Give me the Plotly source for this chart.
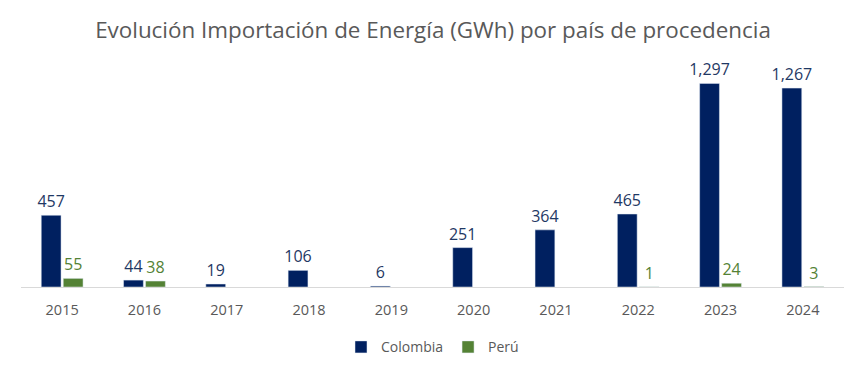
import plotly.graph_objects as go

years = ["2015", "2016", "2017", "2018", "2019", "2020", "2021", "2022", "2023", "2024"]
colombia = [457, 44, 19, 106, 6, 251, 364, 465, 1297, 1267]
peru = [55, 38, None, None, None, None, None, 1, 24, 3]

NAVY = "#002060"
GREEN = "#548235"
FONT = "Open Sans, Noto Sans, sans-serif"

def fmt(v):
    return "" if v is None else f"{v:,}"

fig = go.Figure()
fig.add_trace(go.Bar(
    x=years, y=colombia, name="Colombia", marker_color=NAVY,
    text=[fmt(v) for v in colombia], textposition="outside", constraintext="none",
    textfont=dict(color="#1F3864", size=16, family=FONT), cliponaxis=False,
))
fig.add_trace(go.Bar(
    x=years, y=peru, name="Perú", marker_color=GREEN,
    text=[fmt(v) for v in peru], textposition="outside", constraintext="none",
    textfont=dict(color=GREEN, size=16, family=FONT), cliponaxis=False,
))

fig.update_layout(
    width=866, height=374,
    paper_bgcolor="white", plot_bgcolor="white",
    margin=dict(l=21, r=22, t=60, b=86),
    barmode="group", bargap=0.465, bargroupgap=0.1,
    title=dict(text="Evolución Importación de Energía (GWh) por país de procedencia",
               x=0.5, xanchor="center", y=0.92, yanchor="middle",
               font=dict(size=22.4, color="#595959", family=FONT)),
    legend=dict(orientation="h", x=0.5, xanchor="center", y=-0.26, yanchor="middle",
                font=dict(size=14, color="#595959", family=FONT), itemwidth=30,
                traceorder="normal"),
    showlegend=True,
)
fig.update_xaxes(showline=True, linecolor="#D9D9D9", linewidth=1, ticks="",
                 ticklabelstandoff=10,
                 tickfont=dict(size=14.5, color="#595959", family=FONT), showgrid=False)
fig.update_yaxes(visible=False, range=[0, 1446], showgrid=False)

fig.write_html("out.html", config={"displayModeBar": False},
               post_script="document.body.style.margin='0';")
